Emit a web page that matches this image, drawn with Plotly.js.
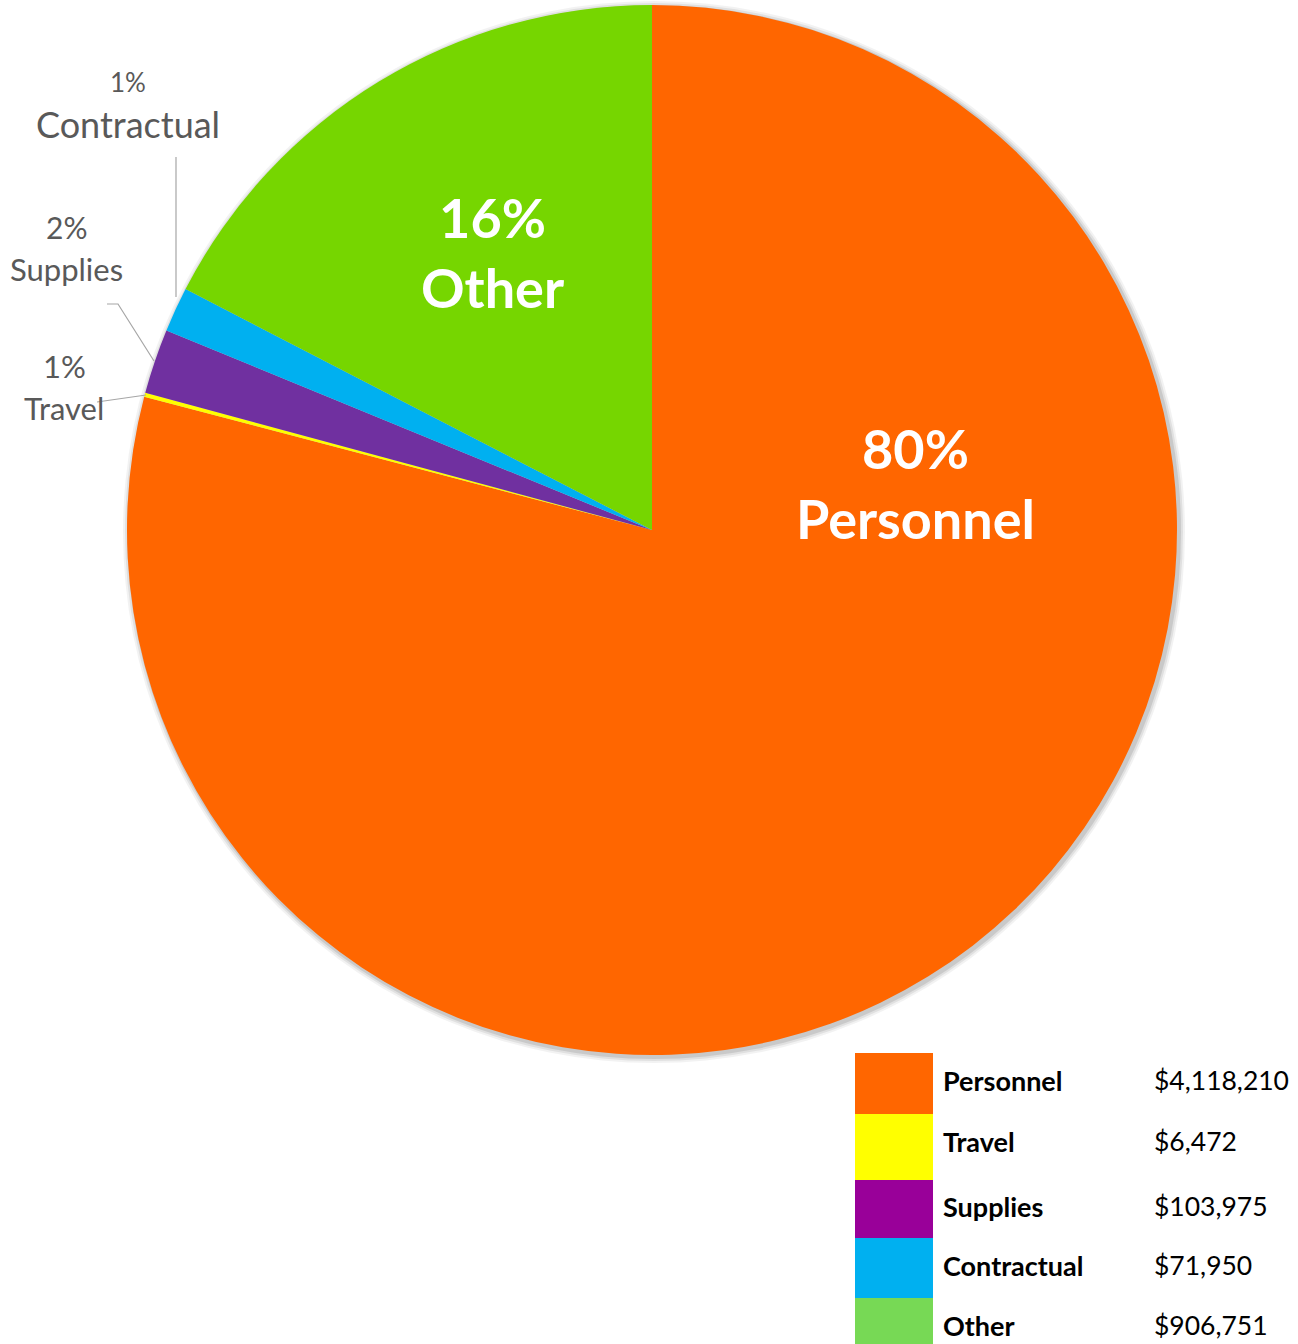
<!DOCTYPE html>
<html>
<head>
<meta charset="utf-8">
<script src="https://cdn.plot.ly/plotly-3.0.1.min.js"></script>
<style>html,body{margin:0;padding:0;background:#fff;}#chart{width:1298px;height:1344px;}</style>
</head>
<body>
<div id="chart"></div>
<script>
// ---- data ----
const categories = ["Personnel", "Travel", "Supplies", "Contractual", "Other"];
const amounts = [4118210, 6472, 103975, 71950, 906751];
const pctLabels = ["80%", "1%", "2%", "1%", "16%"];
const amountLabels = ["$4,118,210", "$6,472", "$103,975", "$71,950", "$906,751"];
const pieColors = ["#FF6600", "#FFFF00", "#7030A0", "#00B0F0", "#76D600"];
const legendColors = ["#FF6600", "#FFFF00", "#990099", "#00B0F0", "#77D955"];

// ---- layout helpers ----
const W = 1298, H = 1344;
const px = x => x / W;
const py = y => 1 - y / H;
const FONT = "Lato, 'Open Sans', sans-serif";
const GREY = "#595959";

const cx = 652, cy = 530, R = 525;

const pie = {
  type: "pie",
  labels: categories,
  values: amounts,
  customdata: pctLabels,
  sort: false,
  direction: "clockwise",
  rotation: 0,
  marker: {colors: pieColors, line: {width: 0}},
  textinfo: "none",
  hovertemplate: "%{label}: %{customdata}<extra></extra>",
  showlegend: false,
  domain: {x: [px(cx - R), px(cx + R)], y: [py(cy + R), py(cy - R)]}
};

const annotations = [];
const shapes = [];

// soft shadow behind pie
[[6, 0.05], [4, 0.07], [2, 0.10]].forEach(([d, a]) => {
  shapes.push({type: "circle", layer: "below", xref: "paper", yref: "paper",
    x0: px(cx - R - d + 2), x1: px(cx + R + d + 2), y0: py(cy + R + d + 2), y1: py(cy - R - d + 2),
    line: {width: 0}, fillcolor: "rgba(0,0,0," + a + ")"});
});

// inside labels
const idx = n => categories.indexOf(n);
annotations.push({xref: "paper", yref: "paper", x: px(915), y: py(483), xanchor: "center", yanchor: "middle",
  showarrow: false, text: "<b>" + pctLabels[idx("Personnel")] + "<br>Personnel</b>",
  font: {family: FONT, size: 54, color: "#FFFFFF"}});
annotations.push({xref: "paper", yref: "paper", x: px(492), y: py(252), xanchor: "center", yanchor: "middle",
  showarrow: false, text: "<b>" + pctLabels[idx("Other")] + "<br>Other</b>",
  font: {family: FONT, size: 54, color: "#FFFFFF"}});

// outside labels
const outside = [
  {name: "Contractual", x: 128, yPct: 82, yName: 124, sPct: 26, sName: 36},
  {name: "Supplies", x: 66, yPct: 227, yName: 269, sPct: 30, sName: 31},
  {name: "Travel", x: 64, yPct: 366, yName: 408, sPct: 31, sName: 31}
];
outside.forEach(o => {
  annotations.push({xref: "paper", yref: "paper", x: px(o.x), y: py(o.yPct), xanchor: "center", yanchor: "middle",
    showarrow: false, text: pctLabels[idx(o.name)], font: {family: FONT, size: o.sPct, color: GREY}});
  annotations.push({xref: "paper", yref: "paper", x: px(o.x), y: py(o.yName), xanchor: "center", yanchor: "middle",
    showarrow: false, text: o.name, font: {family: FONT, size: o.sName, color: GREY}});
});

// leader lines
const leader = pts => ({type: "path", xref: "paper", yref: "paper",
  path: "M " + pts.map(p => px(p[0]) + "," + py(p[1])).join(" L "),
  line: {color: "#A6A6A6", width: 1.2}});
shapes.push(leader([[176, 157], [176, 297]]));
shapes.push(leader([[107, 304], [118, 304], [154, 361]]));
shapes.push(leader([[97, 402], [146, 395]]));

// legend table (row boundaries and text centres in pixels)
const rowEdges = [1053, 1114, 1180, 1238, 1298, 1358];
const rowText = [1080, 1141, 1206, 1265, 1325];
const swX0 = 855, swX1 = 933;
categories.forEach((c, i) => {
  const t = rowEdges[i], b = rowEdges[i + 1];
  shapes.push({type: "rect", xref: "paper", yref: "paper",
    x0: px(swX0), x1: px(swX1), y0: py(b), y1: py(t),
    line: {width: 0}, fillcolor: legendColors[i]});
  annotations.push({xref: "paper", yref: "paper", x: px(941), y: py(rowText[i]), xanchor: "left", yanchor: "middle",
    showarrow: false, text: "<b>" + c + "</b>", font: {family: FONT, size: 27, color: "#000000"}});
  annotations.push({xref: "paper", yref: "paper", x: px(1152), y: py(rowText[i]), xanchor: "left", yanchor: "middle",
    showarrow: false, text: amountLabels[i], font: {family: FONT, size: 26.5, color: "#000000"}});
});

const layout = {
  width: W, height: H,
  margin: {l: 0, r: 0, t: 0, b: 0},
  paper_bgcolor: "#FFFFFF",
  plot_bgcolor: "#FFFFFF",
  showlegend: false,
  annotations: annotations,
  shapes: shapes
};

Plotly.newPlot("chart", [pie], layout, {displayModeBar: false, staticPlot: true});
</script>
</body>
</html>
